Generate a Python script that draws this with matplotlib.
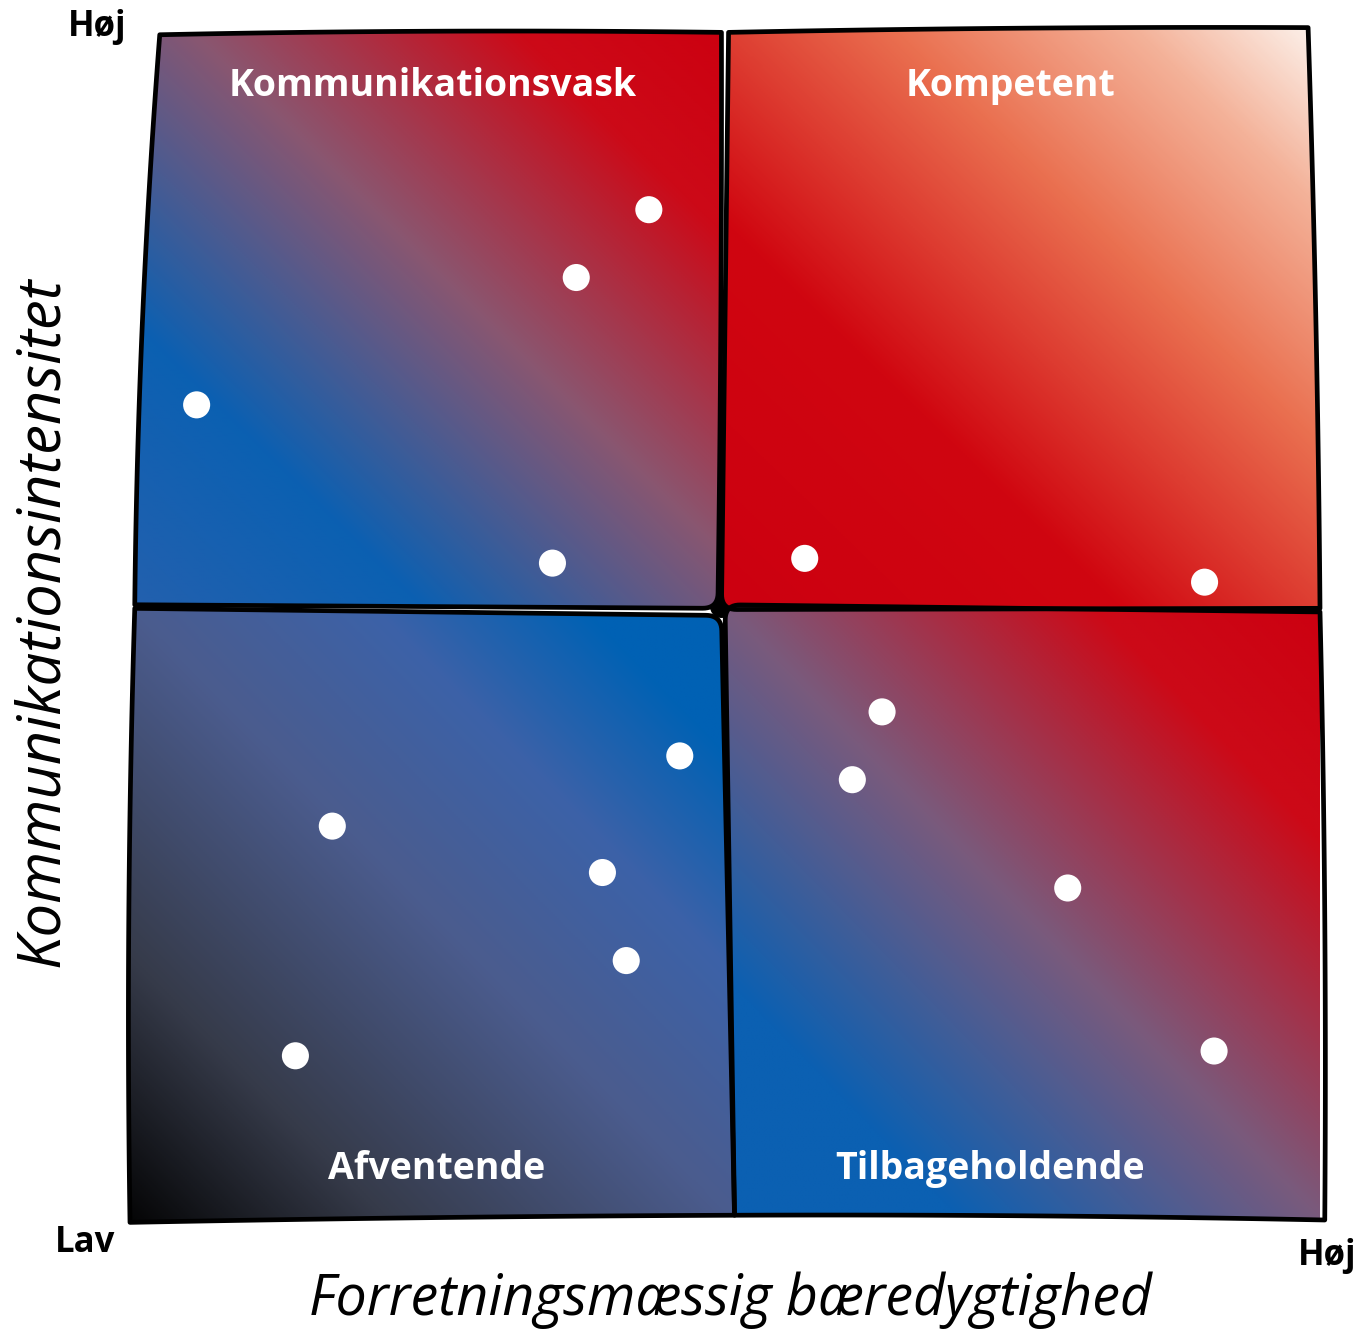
import numpy as np
import matplotlib.pyplot as plt
from matplotlib.path import Path
from matplotlib.patches import PathPatch
from matplotlib.colors import LinearSegmentedColormap

# companies: business sustainability (x) vs communication intensity (y), 0-10 scale
x_vals = [4.36, 3.75, 0.56, 3.55, 5.67, 9.03, 6.32, 6.07, 4.62, 1.70, 3.97, 4.17, 7.88, 1.39, 9.11]
y_vals = [8.49, 7.92, 6.85, 5.52, 5.56, 5.36, 4.27, 3.70, 3.90, 3.31, 2.92, 2.18, 2.79, 1.38, 1.42]

quadrant_names = ['Kommunikationsvask', 'Kompetent', 'Afventende', 'Tilbageholdende']
label_pos = [(2.54, 9.53), (7.40, 9.53), (2.58, 0.43), (7.23, 0.43)]

x_title = 'Forretningsmæssig bæredygtighed'
y_title = 'Kommunikationsintensitet'
low_label = 'Lav'
high_label = 'Høj'

# quadrant outlines (BL, BR, TR, TL), edge bulges (bottom, right, top, left), corner radii
corners = [
    [(0.04, 5.17), (4.94, 5.14), (4.97, 9.98), (0.25, 9.96)],
    [(4.97, 5.13), (10.0, 5.14), (9.90, 10.02), (5.03, 9.98)],
    [(0.00, -0.02), (5.08, 0.04), (4.97, 5.08), (0.04, 5.14)],
    [(5.08, 0.04), (10.04, 0.0), (10.0, 5.11), (5.00, 5.17)],
]
bulges = [
    [0.0, 0.02, 0.04, 0.08],
    [0.0, 0.03, 0.03, 0.0],
    [-0.02, 0.0, 0.0, 0.06],
    [-0.03, 0.04, 0.0, 0.0],
]
radii = [
    [0, 0.13, 0, 0],
    [0.13, 0, 0, 0],
    [0, 0, 0.13, 0],
    [0, 0, 0, 0.13],
]

cmaps = [
    [(0, '#2460ae'), (0.25, '#0b60b2'), (0.55, '#8a5670'), (0.82, '#cc0a18'), (1, '#cc0010')],
    [(0, '#cc0010'), (0.34, '#d00610'), (0.64, '#ea7050'), (0.84, '#f4b299'), (1, '#fdf7f2')],
    [(0, '#030303'), (0.22, '#363b4a'), (0.5, '#4b5c8e'), (0.7, '#3c62a8'), (0.87, '#0061b4'), (1, '#0061b4')],
    [(0, '#0b60b2'), (0.2, '#0b60b2'), (0.5, '#7a5a7c'), (0.8, '#cc0a18'), (1, '#cc0010')],
]


def wobbly_path(pts, bul, rad, n=40):
    k = len(pts)
    pts = [np.array(p, float) for p in pts]
    edges = []
    for i in range(k):
        p0, p1 = pts[i], pts[(i + 1) % k]
        d = p1 - p0
        L = np.hypot(*d)
        nrm = np.array([d[1], -d[0]]) / L
        c = (p0 + p1) / 2 + bul[i] * nrm
        t = np.linspace(rad[i] / L, 1 - rad[(i + 1) % k] / L, n)
        seg = ((1 - t) ** 2)[:, None] * p0 + (2 * t * (1 - t))[:, None] * c + (t ** 2)[:, None] * p1
        edges.append(seg)
    out = []
    for i in range(k):
        out.extend(edges[i])
        j = (i + 1) % k
        if rad[j] > 0:
            q0, q2, cc = edges[i][-1], edges[j][0], pts[j]
            s = np.linspace(0, 1, 12)[1:-1]
            out.extend(((1 - s) ** 2)[:, None] * q0 + (2 * s * (1 - s))[:, None] * cc + (s ** 2)[:, None] * q2)
    out = np.array(out)
    return Path(np.vstack([out, out[:1]]), closed=True)


fig = plt.figure(figsize=(13.62, 13.43), dpi=100)
ax = fig.add_axes([130 / 1362, 123 / 1343, 1190 / 1362, 1190 / 1343])
ax.set_xlim(0, 10)
ax.set_ylim(0, 10)
ax.axis('off')

# black under the centre so the rounded corners close up
cx = np.mean([corners[0][1][0], corners[3][3][0]])
cy = np.mean([corners[0][1][1], corners[3][3][1]])
ax.add_patch(plt.Circle((cx, cy), 0.09, color='black', zorder=1))

for q in range(4):
    path = wobbly_path(corners[q], bulges[q], radii[q])
    xs = [p[0] for p in corners[q]]
    ys = [p[1] for p in corners[q]]
    x0, x1 = min(xs) - 0.05, max(xs) + 0.05
    y0, y1 = min(ys) - 0.05, max(ys) + 0.05
    u, v = np.meshgrid(np.linspace(0, 1, 300), np.linspace(0, 1, 300))
    cm = LinearSegmentedColormap.from_list('q%d' % q, cmaps[q])
    im = ax.imshow((u + v) / 2, cmap=cm, vmin=0, vmax=1, origin='lower',
                   extent=(x0, x1, y0, y1), interpolation='bilinear', zorder=2)
    patch = PathPatch(path, facecolor='none', edgecolor='black', lw=3.4,
                      joinstyle='round', zorder=3, clip_on=False)
    ax.add_patch(patch)
    im.set_clip_path(patch)
    ax.text(label_pos[q][0], label_pos[q][1], quadrant_names[q], color='white',
            fontsize=27, fontweight='bold', family='Open Sans',
            ha='center', va='center', zorder=5)

ax.set_xlim(0, 10)
ax.set_ylim(0, 10)
ax.scatter(x_vals, y_vals, s=380, color='white', edgecolors='none', zorder=6, clip_on=False)

fig.text(97 / 1362, 1 - 27 / 1343, high_label, fontsize=25, fontweight='bold',
         family='Open Sans', ha='center', va='center')
fig.text(85 / 1362, 1 - 1243 / 1343, low_label, fontsize=25, fontweight='bold',
         family='Open Sans', ha='center', va='center')
fig.text(1327 / 1362, 1 - 1256 / 1343, high_label, fontsize=25, fontweight='bold',
         family='Open Sans', ha='center', va='center')

fig.text(730 / 1362, 1 - 1300 / 1343, x_title, fontsize=40, style='italic',
         family='Open Sans', ha='center', va='center')
fig.text(42 / 1362, 1 - 622 / 1343, y_title, fontsize=43, style='italic',
         family='Open Sans', ha='center', va='center', rotation=90)

fig.savefig('out.png', dpi=100, facecolor='white')
